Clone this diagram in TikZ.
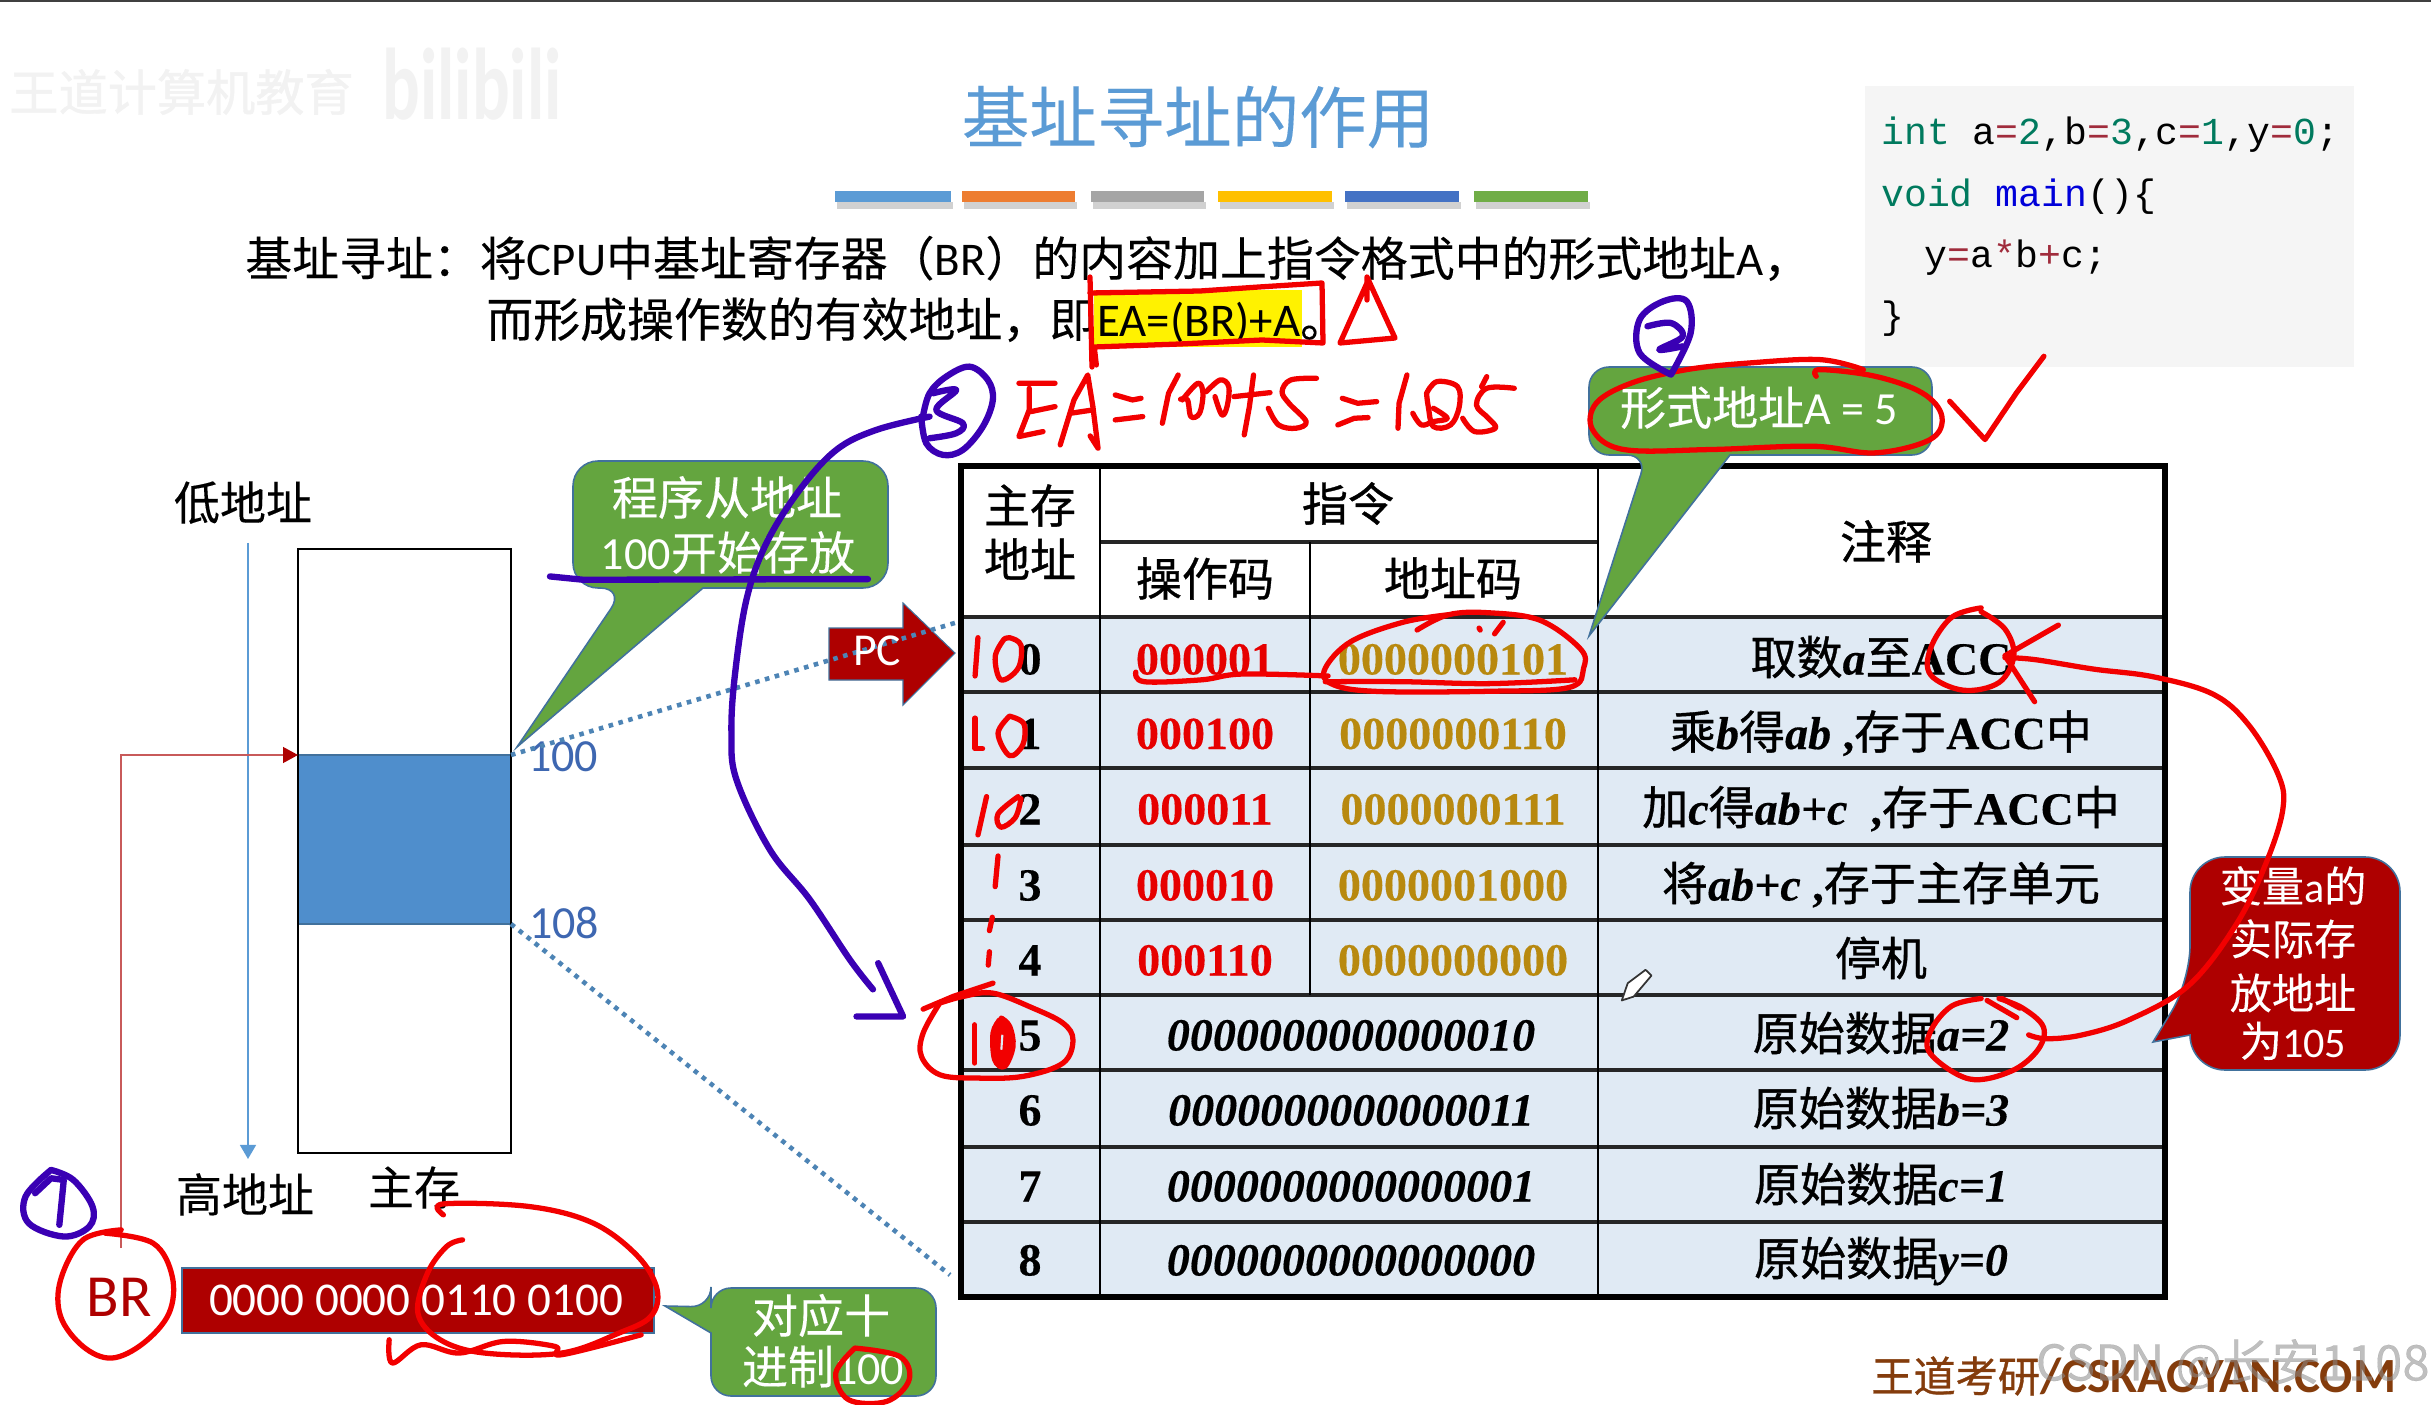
\documentclass[tikz,border=0pt]{standalone}
\usepackage{fontspec}
\usetikzlibrary{arrows.meta}
\setmainfont{Carlito}
\newfontfamily\cj[FakeBold=0.2,BoldFont={Noto Sans CJK SC},BoldFeatures={FakeBold=0.8}]{Noto Sans CJK SC}
\newfontfamily\tm[BoldFeatures={FakeBold=0.25},BoldItalicFeatures={FakeBold=0.3}]{Liberation Serif}
\newfontfamily\mo{Liberation Mono}
\newcommand\sz[1]{\fontsize{#1}{#1}\selectfont}
\newcommand\zh[1]{{\cj #1}}
\newcommand\iv[1]{{\itshape #1}}
\definecolor{inkred}{HTML}{F20000}
\definecolor{inkpur}{HTML}{3A00B4}
\definecolor{dkred}{HTML}{AE0000}
\definecolor{grn}{HTML}{64A53F}
\definecolor{edge}{HTML}{41719C}
\definecolor{ttl}{HTML}{5B9BD5}
\definecolor{cellb}{HTML}{E0EAF4}
\definecolor{gold}{HTML}{B8890F}
\definecolor{opred}{HTML}{E60000}
\definecolor{cgrn}{HTML}{007A5E}
\definecolor{cmar}{HTML}{A02C3C}
\definecolor{brn}{HTML}{843C0C}
\definecolor{memblue}{HTML}{4F8ECC}
\definecolor{lblue}{HTML}{3E67B1}
\definecolor{linkred}{HTML}{C85A5A}
\tikzset{
  ink/.style={draw=inkred,line width=3pt,line cap=round,line join=round},
  pen/.style={draw=inkpur,line width=3.6pt,line cap=round,line join=round},
  body/.style={inner sep=0pt,anchor=base west,font=\sz{26.7}},
  lab/.style={inner sep=0pt,anchor=base,font=\sz{26.2}},
  wlab/.style={inner sep=0pt,anchor=base,text=white,font=\sz{26.2}},
  tb/.style={inner sep=0pt,anchor=base,font=\sz{26.2}\tm\bfseries},
  callg/.style={fill=grn,draw=edge,line width=.9pt},
  callr/.style={fill=dkred,draw=edge,line width=.9pt},
  rowline/.style={draw=black!85,line width=1.8pt},
  colline/.style={draw=black,line width=1.1pt},
  dots/.style={draw=ttl!85!black,line width=2.6pt,dash pattern=on 2.6pt off 3.2pt},
  cod/.style={inner sep=0pt,anchor=base west,font=\sz{21.7}\mo},
}
\newcommand\hw[1]{plot[smooth,tension=.6] coordinates {#1}}
\begin{document}
\begin{tikzpicture}[x=0.02cm,y=-0.02cm]
\useasboundingbox (0,0) rectangle (2431,1405);
\fill[white] (0,0) rectangle (2431,1405);
\fill[black!75] (0,0) rectangle (2431,2);

% faint watermark
\node[inner sep=0pt,anchor=west,text=black!5,font=\sz{28}\cj\bfseries] (wm1) at (9,92) {王道计算机教育};
\node[inner sep=0pt,anchor=west,text=black!5,font=\sz{58}\bfseries] (wm2) at (382,84) {\scalebox{.69}[1]{bilibili}};

% title and bars
\node[inner sep=0pt,text=ttl,font=\sz{38.4}\cj] (title) at (1198,117) {基址寻址的作用};
\foreach \xa/\xb/\colr in {835/951/5B9BD5,962/1075/ED7D31,1091/1204/A5A5A5,1218/1332/FFC000,1345/1459/4472C4,1474/1588/70AD47}{
  \fill[black!18] (\xa+2,202) rectangle (\xb+2,209);
  \definecolor{tmpc}{HTML}{\colr}
  \fill[tmpc] (\xa,191) rectangle (\xb,202);
}

% statement
\fill[yellow] (1094,290) rectangle (1302,347);
\node[body] (s1) at (245,276) {\zh{基址寻址：将}CPU\zh{中基址寄存器（}BR\zh{）的内容加上指令格式中的形式地址}A\zh{，}};
\node[body] (s2) at (486,337) {\zh{而形成操作数的有效地址，即}};
\node[body] (s3) at (1097,337) {EA=(BR)+A\zh{。}};

% code
\fill[black!4] (1865,86) rectangle (2354,367);
\node[cod] (c1) at (1881,145) {\textcolor{cgrn}{int} a\textcolor{cmar}{=}\textcolor{cgrn}{2},b\textcolor{cmar}{=}\textcolor{cgrn}{3},c\textcolor{cmar}{=}\textcolor{cgrn}{1},y\textcolor{cmar}{=}\textcolor{cgrn}{0};};
\node[cod] (c2) at (1881,207) {\textcolor{cgrn}{void} \textcolor{blue!85!black}{main}()\{};
\node[cod] (c3) at (1924,268) {y\textcolor{cmar}{=}a\textcolor{cmar}{*}b\textcolor{cmar}{+}c;};
\node[cod] (c4) at (1881,329) {\}};

% table
\fill[cellb] (961,617) rectangle (2165,1297);
\foreach \y in {617,692,768,845,920,995,1070,1147,1222}{\draw[rowline] (961,\y) -- (2165,\y);}
\draw[rowline] (1100,542) -- (1598,542);
\draw[colline] (1100,466) -- (1100,1297);
\draw[colline] (1310,542) -- (1310,995);
\draw[colline] (1598,466) -- (1598,1297);
\draw[black,line width=3.4pt] (961,466) rectangle (2165,1297);

\node[tb] (h1) at (1030,523) {\zh{主存}};
\node[tb] (h2) at (1030,577) {\zh{地址}};
\node[tb] (h3) at (1348,521) {\zh{指令}};
\node[tb] (h4) at (1205,596) {\zh{操作码}};
\node[tb] (h5) at (1453,596) {\zh{地址码}};
\node[tb] (h6) at (1886,559) {\zh{注释}};

\node[tb] (a0) at (1030,674.5) {0};
\node[tb] (a1) at (1030,749) {1};
\node[tb] (a2) at (1030,824.5) {2};
\node[tb] (a3) at (1030,900.5) {3};
\node[tb] (a4) at (1030,975.5) {4};
\node[tb] (a5) at (1030,1050.5) {5};
\node[tb] (a6) at (1030,1125.5) {6};
\node[tb] (a7) at (1030,1201.5) {7};
\node[tb] (a8) at (1030,1275.5) {8};

\node[tb,text=opred] (o0) at (1205,674.5) {000001};
\node[tb,text=opred] (o1) at (1205,749) {000100};
\node[tb,text=opred] (o2) at (1205,824.5) {000011};
\node[tb,text=opred] (o3) at (1205,900.5) {000010};
\node[tb,text=opred] (o4) at (1205,975.5) {000110};

\node[tb,text=gold] (m0) at (1453,674.5) {0000000101};
\node[tb,text=gold] (m1) at (1453,749) {0000000110};
\node[tb,text=gold] (m2) at (1453,824.5) {0000000111};
\node[tb,text=gold] (m3) at (1453,900.5) {0000001000};
\node[tb,text=gold] (m4) at (1453,975.5) {0000000000};

\node[tb] (d5) at (1351,1050.5) {\iv{0000000000000010}};
\node[tb] (d6) at (1351,1125.5) {\iv{0000000000000011}};
\node[tb] (d7) at (1351,1201.5) {\iv{0000000000000001}};
\node[tb] (d8) at (1351,1275.5) {\iv{0000000000000000}};

\node[tb] (n0) at (1881,674.5) {\zh{取数}\iv{a}\zh{至}ACC};
\node[tb] (n1) at (1881,749) {\zh{乘}\iv{b}\zh{得}\iv{ab} ,\zh{存于}ACC\zh{中}};
\node[tb] (n2) at (1881,824.5) {\zh{加}\iv{c}\zh{得}\iv{ab+c}\ \ ,\zh{存于}ACC\zh{中}};
\node[tb] (n3) at (1881,900.5) {\zh{将}\iv{ab+c} ,\zh{存于主存单元}};
\node[tb] (n4) at (1881,975.5) {\zh{停机}};
\node[tb] (n5) at (1881,1050.5) {\zh{原始数据}\iv{a=2}};
\node[tb] (n6) at (1881,1125.5) {\zh{原始数据}\iv{b=3}};
\node[tb] (n7) at (1881,1201.5) {\zh{原始数据}\iv{c=1}};
\node[tb] (n8) at (1881,1275.5) {\zh{原始数据}\iv{y=0}};

% memory block
\coordinate (memtl) at (298,549);
\coordinate (membr) at (511,1153);
\coordinate (blk) at (298,755);
\coordinate (blkr) at (511,755);
\coordinate (blkb) at (511,924);
\coordinate (tabtop) at (958,622);
\coordinate (tabbot) at (950,1275);
\coordinate (ah) at (248,543);
\coordinate (al) at (248,1159);
\coordinate (brtop) at (121,1248);
\draw[black,line width=1.2pt] (memtl) rectangle (membr);
\fill[memblue] (298,755) rectangle (511,924);
\draw[edge,line width=.8pt] (298,755) rectangle (511,924);
\draw[black,line width=1.2pt] (298,549) -- (298,1153) (511,549) -- (511,1153);
\draw[draw=ttl,line width=1.2pt,-{Triangle[length=8pt,width=9pt]}] (ah) -- (al);
\draw[draw=linkred,line width=1pt,-{Triangle[length=8.5pt,width=9pt,color=dkred]}] (brtop) |- (blk);
\node[lab] (low) at (243,520) {\zh{低地址}};
\node[lab] (high) at (245,1212) {\zh{高地址}};
\node[lab] (mem) at (414,1205) {\zh{主存}};
\node[inner sep=0pt,text=lblue,font=\sz{26.2}] (l100) at (563,757) {100};
\node[inner sep=0pt,text=lblue,font=\sz{26.2}] (l108) at (564,923) {108};

% callouts
\draw[callg,rounded corners=.5cm] (703,588) -- (888,588) -- (888,461) -- (573,461) -- (573,588) -- (625,588) [sharp corners] -- (517,747) -- cycle;
\node[wlab] (t1) at (727,515) {\zh{程序从地址}};
\node[wlab] (t2) at (728,570) {100\zh{开始存放}};
\draw[callg,rounded corners=.4cm] (1730,455) -- (1932,455) -- (1932,367) -- (1589,367) -- (1589,455) -- (1647,455) [sharp corners] -- (1589,636) -- cycle;
\node[wlab] (t3) at (1759,425) {\zh{形式地址}A = 5};
\draw[callr,rounded corners=.7cm] (2190,1035) -- (2190,1070) -- (2400,1070) -- (2400,857) -- (2190,857) -- (2190,981) [sharp corners] -- (2153,1042) -- cycle;
\node[wlab,font=\sz{24}] (t4) at (2293,902) {\zh{变量}a\zh{的}};
\node[wlab,font=\sz{24}] (t5) at (2293,955) {\zh{实际存}};
\node[wlab,font=\sz{24}] (t6) at (2293,1009) {\zh{放地址}};
\node[wlab,font=\sz{24}] (t7) at (2293,1057) {\zh{为}105};
\draw[callg,rounded corners=.4cm] (711,1333) -- (711,1396) -- (936,1396) -- (936,1288) -- (711,1288) -- (711,1307) [sharp corners] -- (665,1306) -- cycle;
\node[wlab] (t8) at (821,1333) {\zh{对应十}};
\node[wlab] (t9) at (823,1384) {\zh{进制}100};

% PC arrow
\draw[fill=dkred,draw=edge,line width=.6pt] (829,628) -- (903,628) -- (903,603) -- (955,653) -- (903,705) -- (903,680) -- (829,680) -- cycle;
\draw[dots] (blkr) -- (tabtop);
\draw[dots] (blkb) -- (tabbot);
\node[inner sep=0pt,text=white,font=\sz{26}] (pc) at (877,651) {PC};

% BR
\node[inner sep=0pt,text=dkred,font=\sz{34}] (br) at (119,1297) {BR};
\draw[fill=dkred,draw=edge,line width=.9pt] (182,1268) rectangle (654,1333);
\node[inner sep=0pt,text=white,font=\sz{26.8}] (brv) at (416,1300) {0000 0000 0110 0100};

% footer
\node[body,text=brn,font=\sz{24}\bfseries] (foot) at (1871,1392) {\zh{王道考研}{\sz{28}/CSKAOYAN.COM}};
\node[inner sep=0pt,anchor=east,text=black!45,opacity=.55,font=\sz{28}\cj] (csdn) at (2430,1364) {CSDN @长安1108};

% pencil
\begin{scope}[shift={(1500,560)},xscale=.594,yscale=.383]
\draw[fill=white,draw=black!80,line width=1pt,line join=round] (205,1150) -- (215,1105) -- (245,1070) -- (255,1085) -- (225,1140) -- cycle;
\end{scope}

% red handwriting: formula box, triangle
\draw[ink] (1090,277) -- (1092,367);
\draw[ink] (1090,293) -- (1200,291) -- (1259,287) -- (1322,283) -- (1323,343) -- (1262,340) -- (1180,344) -- (1094,347);
\draw[ink] (1367,300) -- (1367,277) -- (1395,338) -- (1340,343) -- (1367,283);
% EA=100+5=105
\begin{scope}[shift={(1000,350)},xscale=.344,yscale=.333]
\draw[ink] (55,100) -- (160,100) (85,115) -- (85,180) -- (55,260) -- (125,245) (90,185) -- (160,170);
\draw[ink] (175,285) -- (215,150) -- (255,75) -- (270,170) -- (285,295) -- (262,258) (205,190) -- (270,180);
\draw[ink] (275,0) -- (280,45);
\draw[ink] (335,135) -- (385,150) -- (410,145) (335,210) -- (415,200);
\draw[ink] (518,75) -- (490,130) -- (472,220);
\draw[ink] \hw{(530,150)(575,100)(590,130)(580,190)(555,200)(545,150)(525,148)};
\draw[ink] \hw{(600,125)(640,90)(665,110)(660,170)(645,195)(625,140)};
\draw[ink] (680,140) -- (785,128) (737,75) -- (725,170) -- (710,255);
\draw[ink] \hw{(920,85)(845,90)(820,125)(840,160)(890,215)(860,235)(810,225)(780,175)};
\draw[ink] (995,145) -- (1040,160) -- (1095,155) (982,225) -- (1030,205) -- (1070,203);
\draw[ink] (1183,75) -- (1160,160) -- (1157,235);
\draw[ink] \hw{(1240,130)(1270,95)(1330,110)(1335,170)(1310,225)(1260,230)(1245,170)(1240,130)};
\draw[ink] \hw{(1200,190)(1225,225)(1260,215)(1300,205)(1260,175)};
\draw[ink] \hw{(1495,115)(1415,115)(1385,165)(1420,205)(1440,235)(1380,245)(1345,205)};
\draw[ink] (1415,80) -- (1400,110);
\end{scope}
% callout 2 circle + check
\begin{scope}[shift={(1200,0)},xscale=.785,yscale=.333]
\draw[ink] \hw{(845,1110)(790,1080)(700,1090)(620,1110)(550,1150)(505,1210)(500,1290)(540,1350)(650,1350)(780,1340)(860,1360)(930,1320)(945,1250)(920,1180)(860,1130)(790,1110)(785,1130)};
\draw[ink] (955,1205) -- (1000,1320) -- (1040,1180) -- (1075,1070);
\end{scope}
% addresses and instruction row
\begin{scope}[shift={(800,450)},xscale=.574,yscale=.383]
\draw[ink] (310,490) -- (305,590);
\draw[ink] \hw{(355,495)(340,540)(350,600)(380,570)(385,510)(365,490)(355,495)};
\draw[ink] (305,700) -- (305,780) -- (318,780);
\draw[ink] \hw{(365,695)(345,740)(365,798)(388,770)(390,715)(365,695)};
\draw[ink] (325,905) -- (310,1005);
\draw[ink] \hw{(380,905)(345,950)(350,985)(375,960)(385,910)};
\draw[ink] (345,1060) -- (340,1140);
\draw[ink] (335,1220) -- (330,1255);
\draw[ink] (330,1310) -- (328,1345);
\draw[ink] \hw{(585,580)(600,605)(700,600)(770,585)(920,590)};
\draw[ink] \hw{(1075,470)(1130,430)(1200,425)(1290,445)(1360,520)(1365,570)(1340,620)(1200,630)(1000,630)(925,610)(915,570)(960,500)(1050,450)(1130,430)};
\draw[ink] \hw{(915,605)(1050,605)(1200,610)(1350,600)};
\draw[ink] (1183,465) -- (1185,470) (1225,450) -- (1210,480);
\end{scope}
% row 5 circle
\begin{scope}[shift={(700,800)},xscale=.333,yscale=.333]
\draw[ink] (670,628) -- (760,590) -- (880,550);
\draw[ink] \hw{(720,610)(670,700)(665,770)(720,825)(830,835)(970,830)(1090,790)(1120,720)(1090,670)(1000,625)(880,580)(790,590)(720,610)};
\draw[ink] (825,675) -- (825,790);
\draw[ink,fill=inkred] \hw{(900,660)(880,700)(885,780)(915,800)(940,740)(930,680)(905,655)};
\draw[cellb,line width=1.2pt] (908,705) -- (905,750);
\end{scope}
% ACC / a=2 link
\begin{scope}[shift={(1500,560)},xscale=.594,yscale=.383]
\draw[ink] \hw{(810,125)(760,150)(725,230)(725,300)(780,340)(840,320)(865,250)(850,180)(810,135)};
\draw[ink] \hw{(850,255)(900,260)(1000,285)(1100,305)(1200,350)(1260,430)(1310,560)(1318,650)(1290,790)(1240,950)(1160,1110)(1060,1200)(980,1240)(920,1250)(890,1240)};
\draw[ink] (940,170) -- (850,250) -- (900,370);
\draw[ink] \hw{(810,1145)(760,1165)(725,1230)(725,1290)(790,1355)(860,1335)(905,1280)(915,1220)(880,1170)(840,1145)};
\draw[ink] (820,1150) -- (870,1195) (845,1145) -- (875,1170);
\end{scope}
% BR circles
\begin{scope}[shift={(0,1100)},xscale=.638,yscale=.333]
\draw[ink] \hw{(190,390)(130,420)(95,540)(95,650)(130,740)(175,775)(225,730)(265,640)(270,530)(240,430)(165,400)};
\draw[ink] \hw{(695,345)(695,312)(830,320)(930,370)(1000,470)(1030,570)(1020,650)(970,700)(880,760)(760,760)(690,720)(655,640)(670,520)(700,440)(725,420)};
\draw[ink] \hw{(610,720)(615,790)(660,735)(720,760)(790,725)(870,740)(880,765)(1005,705)};
\draw[ink] \hw{(1340,745)(1310,820)(1330,900)(1390,905)(1425,840)(1410,770)(1340,745)};
% circled 1
\draw[pen] \hw{(80,210)(40,290)(45,370)(100,410)(140,380)(145,320)(115,240)(80,210)};
\draw[pen] (55,280) -- (80,235) -- (100,240) -- (93,375);
\end{scope}
% circled 2
\begin{scope}[shift={(1200,0)},xscale=.785,yscale=.333]
\draw[pen] \hw{(600,1125)(560,1060)(560,960)(590,905)(620,905)(625,1000)(600,1125)};
\draw[pen] \hw{(570,980)(600,970)(615,1010)(585,1050)(615,1040)};
\end{scope}
% circled 3 and long arrow
\begin{scope}[shift={(500,350)},xscale=.333,yscale=.333]
\draw[pen] \hw{(1270,200)(1290,130)(1340,80)(1410,50)(1465,90)(1480,150)(1450,230)(1390,300)(1330,315)(1280,280)(1265,200)};
\draw[pen] \hw{(1300,130)(1370,120)(1310,180)(1390,220)(1370,250)(1290,265)};
\draw[pen] (150,680) -- (250,690) -- (1105,688);
\draw[pen] \hw{(1290,200)(1130,240)(1010,300)(900,420)(800,580)(740,750)(705,980)(695,1150)(710,1290)(810,1500)(930,1650)(1050,1830)(1120,1920)};
\end{scope}
\begin{scope}[shift={(700,800)},xscale=.333,yscale=.333]
\draw[pen] (535,490) -- (610,650) -- (470,650);
\end{scope}
\end{tikzpicture}
\end{document}
